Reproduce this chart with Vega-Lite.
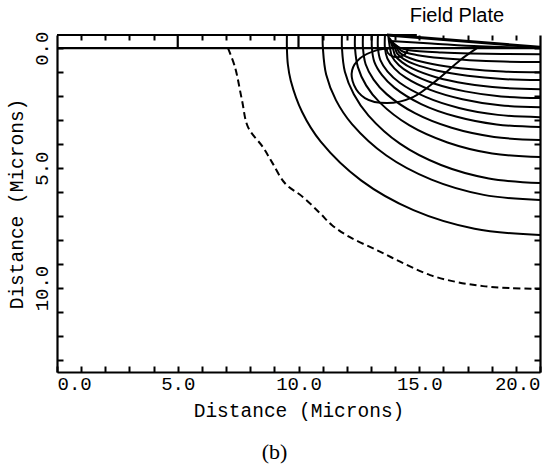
{
  "$schema": "https://vega.github.io/schema/vega-lite/v6.json",
  "width": 483,
  "height": 337,
  "autosize": "none",
  "padding": {"left": 57, "top": 35, "right": 17, "bottom": 98},
  "background": "white",
  "config": {"view": {"stroke": null}},
  "title": {"text": "(b)", "orient": "bottom", "anchor": "middle", "font": "Liberation Serif", "fontSize": 22, "fontWeight": "normal", "color": "black", "offset": 22, "dx": -24},
  "datasets": {
    "contours": [
      {"k": "L1", "i": 0, "x": 9.52, "y": -0.55}, {"k": "L1", "i": 1, "x": 9.52, "y": 0}, {"k": "L1", "i": 2, "x": 9.56, "y": 0.68}, {"k": "L1", "i": 3, "x": 9.68, "y": 1.355}, {"k": "L1", "i": 4, "x": 10.15, "y": 2.66}, {"k": "L1", "i": 5, "x": 10.92, "y": 3.895}, {"k": "L1", "i": 6, "x": 12.59, "y": 5.51}, {"k": "L1", "i": 7, "x": 14.76, "y": 6.75}, {"k": "L1", "i": 8, "x": 17.29, "y": 7.525}, {"k": "L1", "i": 9, "x": 20, "y": 7.79},
      {"k": "L2", "i": 0, "x": 11.0, "y": -0.55}, {"k": "L2", "i": 1, "x": 11.01, "y": 0}, {"k": "L2", "i": 2, "x": 11.145, "y": 1.1}, {"k": "L2", "i": 3, "x": 11.55, "y": 2.165}, {"k": "L2", "i": 4, "x": 12.215, "y": 3.165}, {"k": "L2", "i": 5, "x": 13.64, "y": 4.475}, {"k": "L2", "i": 6, "x": 15.505, "y": 5.48}, {"k": "L2", "i": 7, "x": 17.67, "y": 6.115}, {"k": "L2", "i": 8, "x": 20, "y": 6.33},
      {"k": "L3", "i": 0, "x": 11.8, "y": -0.55}, {"k": "L3", "i": 1, "x": 11.8, "y": 0}, {"k": "L3", "i": 2, "x": 11.92, "y": 0.98}, {"k": "L3", "i": 3, "x": 12.29, "y": 1.92}, {"k": "L3", "i": 4, "x": 12.9, "y": 2.81}, {"k": "L3", "i": 5, "x": 14.2, "y": 3.98}, {"k": "L3", "i": 6, "x": 15.9, "y": 4.87}, {"k": "L3", "i": 7, "x": 17.88, "y": 5.43}, {"k": "L3", "i": 8, "x": 20, "y": 5.625},
      {"k": "L4", "i": 0, "x": 12.34, "y": -0.55}, {"k": "L4", "i": 1, "x": 12.34, "y": 0}, {"k": "L4", "i": 2, "x": 12.46, "y": 0.79}, {"k": "L4", "i": 3, "x": 12.8, "y": 1.55}, {"k": "L4", "i": 4, "x": 13.37, "y": 2.27}, {"k": "L4", "i": 5, "x": 14.58, "y": 3.21}, {"k": "L4", "i": 6, "x": 16.17, "y": 3.93}, {"k": "L4", "i": 7, "x": 18.02, "y": 4.39}, {"k": "L4", "i": 8, "x": 20, "y": 4.54},
      {"k": "L5", "i": 0, "x": 12.67, "y": -0.55}, {"k": "L5", "i": 1, "x": 12.67, "y": 0}, {"k": "L5", "i": 2, "x": 12.78, "y": 0.67}, {"k": "L5", "i": 3, "x": 13.11, "y": 1.31}, {"k": "L5", "i": 4, "x": 13.65, "y": 1.915}, {"k": "L5", "i": 5, "x": 14.82, "y": 2.71}, {"k": "L5", "i": 6, "x": 16.34, "y": 3.32}, {"k": "L5", "i": 7, "x": 18.1, "y": 3.7}, {"k": "L5", "i": 8, "x": 20, "y": 3.83},
      {"k": "L6", "i": 0, "x": 13.04, "y": -0.55}, {"k": "L6", "i": 1, "x": 13.04, "y": 0}, {"k": "L6", "i": 2, "x": 13.14, "y": 0.57}, {"k": "L6", "i": 3, "x": 13.46, "y": 1.125}, {"k": "L6", "i": 4, "x": 13.97, "y": 1.645}, {"k": "L6", "i": 5, "x": 15.08, "y": 2.33}, {"k": "L6", "i": 6, "x": 16.52, "y": 2.85}, {"k": "L6", "i": 7, "x": 18.2, "y": 3.18}, {"k": "L6", "i": 8, "x": 20, "y": 3.29},
      {"k": "L7", "i": 0, "x": 13.29, "y": -0.55}, {"k": "L7", "i": 1, "x": 13.29, "y": 0}, {"k": "L7", "i": 2, "x": 13.39, "y": 0.5}, {"k": "L7", "i": 3, "x": 13.69, "y": 0.98}, {"k": "L7", "i": 4, "x": 14.19, "y": 1.44}, {"k": "L7", "i": 5, "x": 15.26, "y": 2.03}, {"k": "L7", "i": 6, "x": 16.645, "y": 2.49}, {"k": "L7", "i": 7, "x": 18.26, "y": 2.78}, {"k": "L7", "i": 8, "x": 20, "y": 2.875},
      {"k": "L8", "i": 0, "x": 13.58, "y": -0.55}, {"k": "L8", "i": 1, "x": 13.58, "y": 0}, {"k": "L8", "i": 2, "x": 13.68, "y": 0.43}, {"k": "L8", "i": 3, "x": 13.97, "y": 0.84}, {"k": "L8", "i": 4, "x": 14.44, "y": 1.23}, {"k": "L8", "i": 5, "x": 15.46, "y": 1.74}, {"k": "L8", "i": 6, "x": 16.79, "y": 2.13}, {"k": "L8", "i": 7, "x": 18.34, "y": 2.38}, {"k": "L8", "i": 8, "x": 20, "y": 2.46},
      {"k": "L9", "i": 0, "x": 13.72, "y": -0.5}, {"k": "L9", "i": 1, "x": 13.79, "y": 0}, {"k": "L9", "i": 2, "x": 13.88, "y": 0.36}, {"k": "L9", "i": 3, "x": 14.16, "y": 0.71}, {"k": "L9", "i": 4, "x": 14.62, "y": 1.04}, {"k": "L9", "i": 5, "x": 15.61, "y": 1.47}, {"k": "L9", "i": 6, "x": 16.9, "y": 1.8}, {"k": "L9", "i": 7, "x": 18.39, "y": 2.01}, {"k": "L9", "i": 8, "x": 20, "y": 2.08},
      {"k": "L10", "i": 0, "x": 13.75, "y": -0.45}, {"k": "L10", "i": 1, "x": 13.91, "y": 0}, {"k": "L10", "i": 2, "x": 14.0, "y": 0.3}, {"k": "L10", "i": 3, "x": 14.28, "y": 0.58}, {"k": "L10", "i": 4, "x": 14.73, "y": 0.855}, {"k": "L10", "i": 5, "x": 15.69, "y": 1.21}, {"k": "L10", "i": 6, "x": 16.96, "y": 1.48}, {"k": "L10", "i": 7, "x": 18.42, "y": 1.65}, {"k": "L10", "i": 8, "x": 20, "y": 1.71},
      {"k": "L11", "i": 0, "x": 13.78, "y": -0.4}, {"k": "L11", "i": 1, "x": 14.0, "y": 0}, {"k": "L11", "i": 2, "x": 14.09, "y": 0.23}, {"k": "L11", "i": 3, "x": 14.36, "y": 0.455}, {"k": "L11", "i": 4, "x": 14.8, "y": 0.665}, {"k": "L11", "i": 5, "x": 15.76, "y": 0.94}, {"k": "L11", "i": 6, "x": 17.0, "y": 1.15}, {"k": "L11", "i": 7, "x": 18.45, "y": 1.285}, {"k": "L11", "i": 8, "x": 20, "y": 1.33},
      {"k": "L12", "i": 0, "x": 13.8, "y": -0.35}, {"k": "L12", "i": 1, "x": 14.08, "y": 0}, {"k": "L12", "i": 2, "x": 14.17, "y": 0.17}, {"k": "L12", "i": 3, "x": 14.435, "y": 0.34}, {"k": "L12", "i": 4, "x": 14.87, "y": 0.5}, {"k": "L12", "i": 5, "x": 15.815, "y": 0.71}, {"k": "L12", "i": 6, "x": 17.04, "y": 0.87}, {"k": "L12", "i": 7, "x": 18.47, "y": 0.97}, {"k": "L12", "i": 8, "x": 20, "y": 1.0},
      {"k": "L13", "i": 0, "x": 13.83, "y": -0.3}, {"k": "L13", "i": 1, "x": 14.16, "y": 0}, {"k": "L13", "i": 2, "x": 14.25, "y": 0.1}, {"k": "L13", "i": 3, "x": 14.51, "y": 0.2}, {"k": "L13", "i": 4, "x": 14.94, "y": 0.29}, {"k": "L13", "i": 5, "x": 15.87, "y": 0.41}, {"k": "L13", "i": 6, "x": 17.08, "y": 0.5}, {"k": "L13", "i": 7, "x": 18.49, "y": 0.56}, {"k": "L13", "i": 8, "x": 20, "y": 0.58},
      {"k": "L14", "i": 0, "x": 13.86, "y": -0.25}, {"k": "L14", "i": 1, "x": 14.24, "y": 0}, {"k": "L14", "i": 2, "x": 14.59, "y": 0.085}, {"k": "L14", "i": 3, "x": 15.93, "y": 0.18}, {"k": "L14", "i": 4, "x": 17.12, "y": 0.22}, {"k": "L14", "i": 5, "x": 20, "y": 0.25},
      {"k": "loop", "i": 0, "x": 17.39, "y": 0}, {"k": "loop", "i": 1, "x": 16.69, "y": 0.5}, {"k": "loop", "i": 2, "x": 15.73, "y": 1.33}, {"k": "loop", "i": 3, "x": 14.74, "y": 2.04}, {"k": "loop", "i": 4, "x": 13.66, "y": 2.29}, {"k": "loop", "i": 5, "x": 12.75, "y": 2.08}, {"k": "loop", "i": 6, "x": 12.3, "y": 1.54}, {"k": "loop", "i": 7, "x": 12.22, "y": 0.92}, {"k": "loop", "i": 8, "x": 12.55, "y": 0.42}, {"k": "loop", "i": 9, "x": 13.25, "y": 0.08}, {"k": "loop", "i": 10, "x": 13.79, "y": 0},
      {"k": "small", "i": 0, "x": 13.65, "y": 0}, {"k": "small", "i": 1, "x": 13.7, "y": 0.2}, {"k": "small", "i": 2, "x": 13.95, "y": 0.36}, {"k": "small", "i": 3, "x": 14.3, "y": 0.32}, {"k": "small", "i": 4, "x": 14.5, "y": 0.12}, {"k": "small", "i": 5, "x": 14.5, "y": 0},
      {"k": "oxide", "i": 0, "x": 13.8, "y": -0.3}, {"k": "oxide", "i": 1, "x": 15.5, "y": -0.2}, {"k": "oxide", "i": 2, "x": 17.5, "y": -0.08}, {"k": "oxide", "i": 3, "x": 19.5, "y": -0.02}
    ],
    "depletion": [
      {"i": 0, "x": 7.08, "y": 0}, {"i": 1, "x": 7.37, "y": 0.79}, {"i": 2, "x": 7.66, "y": 2.17}, {"i": 3, "x": 7.91, "y": 3.29}, {"i": 4, "x": 8.53, "y": 4.13}, {"i": 5, "x": 8.9, "y": 4.75}, {"i": 6, "x": 9.44, "y": 5.63}, {"i": 7, "x": 10.19, "y": 6.21}, {"i": 8, "x": 10.89, "y": 6.88}, {"i": 9, "x": 11.39, "y": 7.38}, {"i": 10, "x": 12.13, "y": 7.88}, {"i": 11, "x": 13.25, "y": 8.42}, {"i": 12, "x": 14.33, "y": 8.96}, {"i": 13, "x": 15.45, "y": 9.46}, {"i": 14, "x": 16.56, "y": 9.75}, {"i": 15, "x": 17.64, "y": 9.92}, {"i": 16, "x": 18.76, "y": 10.0}, {"i": 17, "x": 20, "y": 10.04}
    ],
    "structure": [
      {"part": "surface", "x": 0, "x2": 20, "y": 0, "y2": 0},
      {"part": "oxide top", "x": 0, "x2": 14.9, "y": -0.55, "y2": -0.55},
      {"part": "tick 5", "x": 5, "x2": 5, "y": -0.55, "y2": 0},
      {"part": "tick 10", "x": 10, "x2": 10, "y": -0.55, "y2": 0}
    ],
    "plate": [
      {"part": "field plate", "x": 13.66, "x2": 20, "y": -0.55, "y2": -0.04}
    ],
    "labels": [
      {"text": "Field Plate", "x": 16.56, "y": -1.33}
    ]
  },
  "layer": [
    {
      "data": {"name": "contours"},
      "mark": {"type": "line", "color": "black", "strokeWidth": 2, "interpolate": "catmull-rom"},
      "encoding": {
        "x": {"field": "x", "type": "quantitative", "scale": {"domain": [0, 20], "nice": false, "zero": false},
          "axis": {"orient": "bottom", "values": [0,1,2,3,4,5,6,7,8,9,10,11,12,13,14,15,16,17,18,19,20],
            "labelExpr": "datum.value % 5 === 0 ? format(datum.value, '.1f') : ''",
            "tickSize": -6, "tickWidth": 2, "tickColor": "black", "domainColor": "black", "domainWidth": 2.2,
            "labelFont": "Liberation Mono", "labelFontSize": 19, "labelColor": "black", "labelPadding": 8,
            "labelOverlap": false, "labelFlush": true, "labelBound": false, "grid": false,
            "title": "Distance (Microns)", "titleFont": "Liberation Mono", "titleFontSize": 19.5, "titleFontWeight": "normal", "titleColor": "black", "titlePadding": 8}},
        "y": {"field": "y", "type": "quantitative", "scale": {"domain": [-0.55, 13.5], "nice": false, "zero": false, "reverse": true},
          "axis": {"orient": "left", "values": [0,1,2,3,4,5,6,7,8,9,10,11,12,13],
            "labelExpr": "datum.value % 5 === 0 ? format(datum.value, '.1f') : ''",
            "labelAngle": -90, "labelAlign": "center", "labelBaseline": "bottom",
            "tickSize": -6, "tickWidth": 2, "tickColor": "black", "domainColor": "black", "domainWidth": 2.2,
            "labelFont": "Liberation Mono", "labelFontSize": 19, "labelColor": "black", "labelPadding": 12,
            "labelOverlap": false, "labelFlush": false, "labelBound": false, "grid": false,
            "title": "Distance (Microns)", "titleFont": "Liberation Mono", "titleFontSize": 19.5, "titleFontWeight": "normal", "titleColor": "black", "titlePadding": 6}},
        "detail": {"field": "k"},
        "order": {"field": "i", "type": "quantitative"}
      }
    },
    {
      "data": {"name": "depletion"},
      "mark": {"type": "line", "color": "black", "strokeWidth": 2, "strokeDash": [7, 4], "interpolate": "catmull-rom"},
      "encoding": {
        "x": {"field": "x", "type": "quantitative",
          "axis": {"orient": "top", "values": [1,2,3,4,6,7,8,9,11,12,13,14,15,16,17,18,19], "labels": false, "domain": false,
            "tickSize": -5, "tickWidth": 2, "tickColor": "black", "grid": false, "title": null}},
        "y": {"field": "y", "type": "quantitative",
          "axis": {"orient": "right", "values": [0,1,2,3,4,5,6,7,8,9,10,11,12,13], "labels": false, "domain": true,
            "domainColor": "black", "domainWidth": 2.2, "tickSize": -6, "tickWidth": 2, "tickColor": "black", "grid": false, "title": null}},
        "order": {"field": "i", "type": "quantitative"}
      }
    },
    {
      "data": {"name": "structure"},
      "mark": {"type": "rule", "color": "black", "strokeWidth": 2.2},
      "encoding": {
        "x": {"field": "x", "type": "quantitative", "axis": null},
        "x2": {"field": "x2"},
        "y": {"field": "y", "type": "quantitative", "axis": null},
        "y2": {"field": "y2"}
      }
    },
    {
      "data": {"name": "plate"},
      "mark": {"type": "rule", "color": "black", "strokeWidth": 3},
      "encoding": {
        "x": {"field": "x", "type": "quantitative", "axis": null},
        "x2": {"field": "x2"},
        "y": {"field": "y", "type": "quantitative", "axis": null},
        "y2": {"field": "y2"}
      }
    },
    {
      "data": {"name": "labels"},
      "mark": {"type": "text", "font": "Liberation Sans", "fontSize": 20, "color": "black", "align": "center", "baseline": "middle", "clip": false},
      "encoding": {
        "x": {"field": "x", "type": "quantitative", "axis": null},
        "y": {"field": "y", "type": "quantitative", "axis": null},
        "text": {"field": "text"}
      }
    }
  ],
  "resolve": {"axis": {"x": "independent", "y": "independent"}}
}
